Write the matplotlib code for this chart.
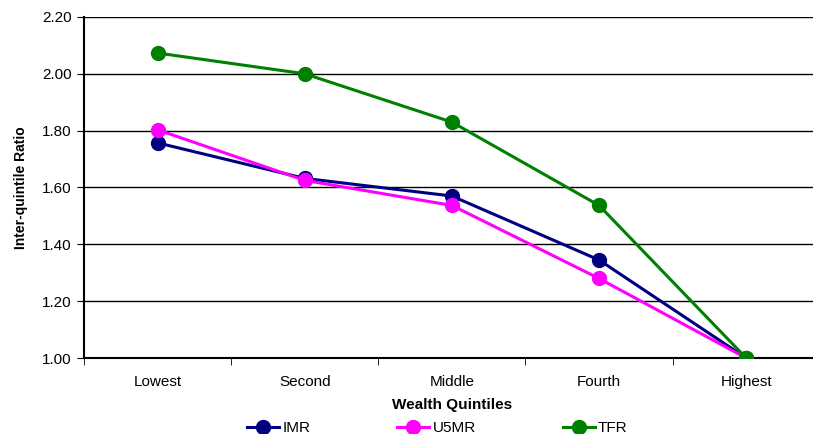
import matplotlib
matplotlib.use("Agg")
import matplotlib.pyplot as plt

# DATA
quintiles = ["Lowest", "Second", "Middle", "Fourth", "Highest"]
imr = [1.757, 1.632, 1.570, 1.345, 1.00]
u5mr = [1.803, 1.625, 1.537, 1.280, 1.00]
tfr = [2.073, 2.000, 1.830, 1.537, 1.00]
yticks = [1.00, 1.20, 1.40, 1.60, 1.80, 2.00, 2.20]

plt.rcParams['font.family'] = ['Liberation Sans', 'DejaVu Sans']

fig = plt.figure(figsize=(8.13, 4.34), dpi=100)
ax = fig.add_axes([0.1033, 0.175, 0.905, 0.786])

x = range(len(quintiles))
ax.plot(x, imr, color='#000080', lw=2.2, marker='o', ms=10, label='IMR', zorder=3)
ax.plot(x, u5mr, color='#ff00ff', lw=2.2, marker='o', ms=10, label='U5MR', zorder=4)
ax.plot(x, tfr, color='#008000', lw=2.2, marker='o', ms=10, label='TFR', zorder=5)

ax.set_xlim(-0.5, len(quintiles) - 0.5)
ax.set_ylim(1.0, 2.2)
ax.set_yticks(yticks)
ax.set_yticklabels(["%.2f" % v for v in yticks], fontsize=11)
ax.set_xticks(list(x))
ax.set_xticklabels(quintiles, fontsize=11)
ax.set_xticks([i + 0.5 for i in range(-1, len(quintiles))], minor=True)
ax.tick_params(axis='x', which='major', length=0, pad=12)
ax.tick_params(axis='x', which='minor', length=5, color='black', direction='out')
ax.tick_params(axis='y', length=5, color='black', direction='out', pad=4)

ax.grid(axis='y', color='black', lw=1)
ax.set_axisbelow(True)
for s in ['top', 'right']:
    ax.spines[s].set_visible(False)
ax.spines['left'].set_linewidth(1.5)
ax.spines['bottom'].set_linewidth(1.5)

ax.set_ylabel('Inter-quintile Ratio', fontsize=10, fontweight='bold', labelpad=10)
ax.set_xlabel('Wealth Quintiles', fontsize=11, fontweight='bold', labelpad=7)

fig.legend(loc='lower center', bbox_to_anchor=(0.538, -0.035), ncol=3, frameon=False,
           fontsize=11, columnspacing=5.7, handlelength=2.1, handletextpad=0.2)

fig.savefig('out.png', dpi=100)
